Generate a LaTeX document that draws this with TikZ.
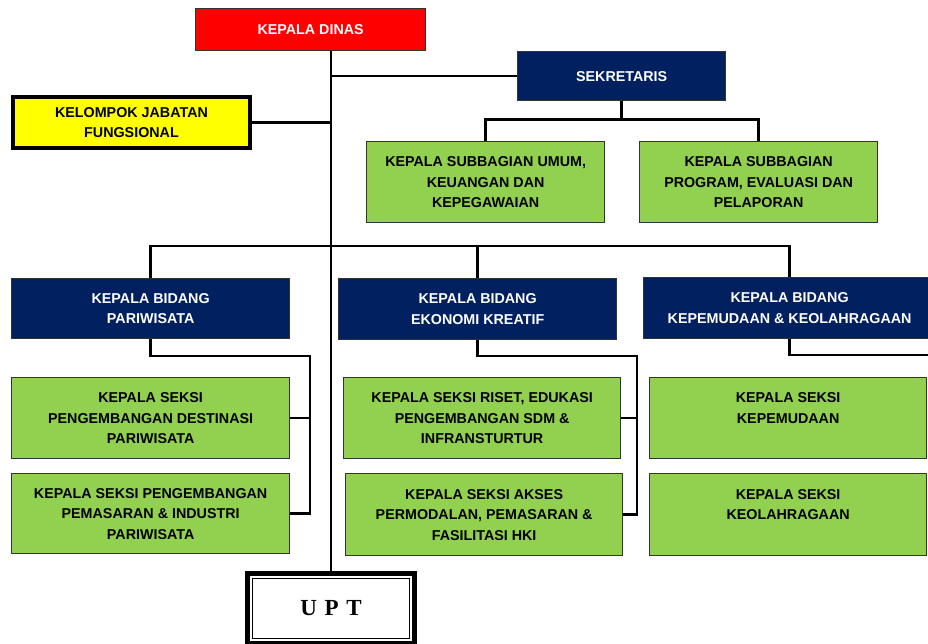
\documentclass[tikz,border=0pt]{standalone}
\usepackage{fontspec}
\setmainfont{Liberation Sans}
\newfontfamily\uptfont{Liberation Serif}
\usetikzlibrary{positioning}
\definecolor{dinasred}{HTML}{FF0000}
\definecolor{orgnavy}{HTML}{002060}
\definecolor{orggreen}{HTML}{92D050}
\definecolor{orgyellow}{HTML}{FFFF00}

\begin{document}
\begin{tikzpicture}[x=1pt,y=-1pt,font=\bfseries\fontsize{14.3}{20.5}\selectfont,box/.style={draw=black!80,line width=1.3pt,align=center,anchor=north west,inner sep=0pt},head/.style={box,fill=orgnavy,text=white},sub/.style={box,fill=orggreen},link/.style={line width=2.6pt}]
\clip (0,0) rectangle (928,643);
\node[box,fill=dinasred,text=white,minimum width=230pt,minimum height=42pt] (dinas) at (195,8) {KEPALA DINAS};
\node[head,minimum width=208pt,minimum height=49pt] (sekr) at (517,51) {SEKRETARIS};
\node[box,fill=orgyellow,draw=black,line width=4pt,minimum width=237pt,minimum height=51pt] (jf) at (11,95) {KELOMPOK JABATAN\\FUNGSIONAL};
\node[sub,minimum width=238pt,minimum height=81pt] (umum) at (366,141) {KEPALA SUBBAGIAN UMUM,\\KEUANGAN DAN\\KEPEGAWAIAN};
\node[sub,minimum width=238pt,minimum height=81pt] (prog) at (639,141) {KEPALA SUBBAGIAN\\PROGRAM, EVALUASI DAN\\PELAPORAN};
\node[head,minimum width=278pt,minimum height=60pt] (bpar) at (11,278) {KEPALA BIDANG\\PARIWISATA};
\node[head,minimum width=278pt,minimum height=61pt] (beko) at (338,278) {KEPALA BIDANG\\EKONOMI KREATIF};
\node[head,minimum width=292pt,minimum height=61pt] (bpem) at (643,277) {KEPALA BIDANG\\KEPEMUDAAN \& KEOLAHRAGAAN};
\node[sub,minimum width=278pt,minimum height=81pt] (pdest) at (11,377) {KEPALA SEKSI\\PENGEMBANGAN DESTINASI\\PARIWISATA};
\node[sub,minimum width=278pt,minimum height=80pt] (pmas) at (11,473) {KEPALA SEKSI PENGEMBANGAN\\PEMASARAN \& INDUSTRI\\PARIWISATA};
\node[sub,minimum width=277pt,minimum height=81pt] (eriset) at (343,377) {KEPALA SEKSI RISET, EDUKASI\\PENGEMBANGAN SDM \&\\INFRANSTURTUR};
\node[sub,minimum width=277pt,minimum height=82pt] (eakses) at (345,473) {KEPALA SEKSI AKSES\\PERMODALAN, PEMASARAN \&\\FASILITASI HKI};
\node[sub,minimum width=277pt,minimum height=81pt] (kmuda) at (649,377) {KEPALA SEKSI\\KEPEMUDAAN\\~};
\node[sub,minimum width=277pt,minimum height=82pt] (kolah) at (649,473) {KEPALA SEKSI\\KEOLAHRAGAAN\\~};
\node[box,draw=black,line width=5pt,fill=white,minimum width=167pt,minimum height=70pt,font=\uptfont\bfseries\fontsize{23}{23}\selectfont] (upt) at (245,571) {U\,\,P\,\,T};
\draw[line width=1.6pt] ([shift={(7.5,7.5)}]upt.north west) rectangle ([shift={(-7.5,-7.5)}]upt.south east);
% garis utama
\draw[link] (upt.north |- dinas.south) -- (upt.north);
\draw[link] (upt.north |- sekr.west) -- (sekr.west);
\draw[link] (jf.east) -- (jf.east -| upt.north);
\draw[link] (sekr.south) -- ++(0,18) coordinate (sj);
\draw[link] (umum.north) |- (sj) -| (prog.north);
\coordinate (bus) at (328,246);
\draw[link] (bpar.north) |- (bus) -| (bpem.north);
\draw[link] (beko.north) -- (beko.north |- bus);
% seksi
\coordinate (pr) at (310,356);
\draw[link] (bpar.south) |- (pr) |- (pmas.east);
\draw[link] (pdest.east) -- (pdest.east -| pr);
\coordinate (er) at (637,356);
\draw[link] (beko.south) |- (er) |- (eakses.east);
\draw[link] (eriset.east) -- (eriset.east -| er);
\draw[link] (bpem.south) |- (940,355) coordinate (kr);
\end{tikzpicture}
\end{document}
